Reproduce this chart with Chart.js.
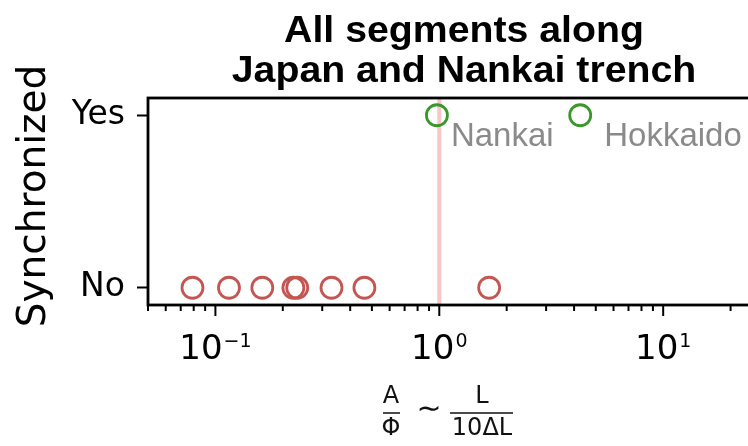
<!DOCTYPE html>
<html>
<head>
<meta charset="utf-8">
<script src="https://cdn.jsdelivr.net/npm/chart.js@4.4.1/dist/chart.umd.min.js"></script>
<style>
  html, body { margin: 0; padding: 0; background: #fff; overflow: hidden; }
  #wrap { position: relative; width: 790px; height: 446px; }
</style>
</head>
<body>
<div id="wrap"><canvas id="graficoSegmentos"></canvas></div>
<script>
    // valores
    const categorias = ['No', 'Yes'];
    const naoSincX = [0.079, 0.115, 0.162, 0.223, 0.232, 0.33, 0.463, 1.67];
    const naoSincY = [0, 0, 0, 0, 0, 0, 0, 0];
    const sincX = [0.976, 4.26];
    const sincY = [1, 1];
    const sincNomes = ['Nankai', 'Hokkaido'];
    const limiteX = 1;
    const xMajorValores = [0.1, 1, 10];
    const xMajorExpoentes = ['−1', '0', '1'];

    const VERMELHO = 'rgb(196, 86, 82)';
    const VERDE = 'rgb(58, 152, 42)';

    const paraPontos = (xs, ys) => xs.map((x, i) => ({ x, y: ys[i] }));

    // texto com largura ajustada (esticado na horizontal)
    function textoLargo(ctx, txt, x, y, escala) {
        ctx.save();
        ctx.translate(x, y);
        ctx.scale(escala, 1);
        ctx.fillText(txt, 0, 0);
        ctx.restore();
    }

    const desenhoExtra = {
        id: 'desenhoExtra',
        beforeDatasetsDraw(chart) {
            const { ctx, chartArea: a, scales: { x } } = chart;
            const px = x.getPixelForValue(limiteX);
            ctx.save();
            ctx.strokeStyle = 'rgba(240, 128, 128, 0.45)';
            ctx.lineWidth = 4;
            ctx.beginPath();
            ctx.moveTo(px, a.top);
            ctx.lineTo(px, a.bottom);
            ctx.stroke();
            ctx.restore();
        },
        afterDraw(chart) {
            const { ctx, chartArea: a, scales: { x, y } } = chart;
            ctx.save();

            // moldura
            ctx.strokeStyle = '#000';
            ctx.lineWidth = 2.8;
            ctx.strokeRect(a.left, a.top, a.right - a.left, a.bottom - a.top);

            // marcas do eixo x (maiores e menores)
            ctx.lineWidth = 2;
            x.ticks.forEach(t => {
                const px = x.getPixelForValue(t.value);
                const len = xMajorValores.includes(t.value) ? 11 : 6;
                ctx.beginPath();
                ctx.moveTo(px, a.bottom);
                ctx.lineTo(px, a.bottom + len);
                ctx.stroke();
            });

            // rotulos 10^n do eixo x
            ctx.fillStyle = '#000';
            ctx.textBaseline = 'alphabetic';
            ctx.textAlign = 'left';
            xMajorValores.forEach((v, i) => {
                const px = x.getPixelForValue(v);
                ctx.font = '34px "DejaVu Sans"';
                const wBase = ctx.measureText('10').width;
                ctx.font = '19px "DejaVu Sans"';
                const wExp = ctx.measureText(xMajorExpoentes[i]).width;
                const x0 = px - (wBase + wExp + 1) / 2;
                ctx.font = '34px "DejaVu Sans"';
                ctx.fillText('10', x0, 359);
                ctx.font = '19px "DejaVu Sans"';
                ctx.fillText(xMajorExpoentes[i], x0 + wBase + 1, 347);
            });

            // titulo
            ctx.textAlign = 'center';
            ctx.font = 'bold 36px "Liberation Sans", Arial, sans-serif';
            textoLargo(ctx, 'All segments along', 464, 42, 1.09);
            textoLargo(ctx, 'Japan and Nankai trench', 464, 82, 1.09);

            // rotulo do eixo y
            ctx.save();
            ctx.translate(45, 196);
            ctx.rotate(-Math.PI / 2);
            ctx.font = '39px "DejaVu Sans"';
            ctx.fillText('Synchronized', 0, 0);
            ctx.restore();

            // rotulo do eixo x: A/Φ ∼ L/(10ΔL)
            ctx.font = '24px "DejaVu Sans"';
            ctx.fillStyle = '#111';
            ctx.fillText('A', 391, 403);
            ctx.fillText('Φ', 391, 435);
            ctx.fillText('L', 482, 403);
            ctx.fillText('10ΔL', 482, 435);
            ctx.textBaseline = 'middle';
            ctx.font = '30px "DejaVu Sans"';
            ctx.fillText('∼', 429, 410);
            ctx.strokeStyle = '#111';
            ctx.lineWidth = 1.6;
            ctx.beginPath();
            ctx.moveTo(383, 413); ctx.lineTo(400, 413);
            ctx.moveTo(450, 413); ctx.lineTo(513, 413);
            ctx.stroke();

            // nomes dos segmentos sincronizados
            const desloc = [14, 24];
            ctx.font = '33px "Liberation Sans", Arial, sans-serif';
            ctx.fillStyle = '#8a8a8a';
            ctx.textAlign = 'left';
            ctx.textBaseline = 'alphabetic';
            sincNomes.forEach((nome, i) => {
                const px = x.getPixelForValue(sincX[i]) + desloc[i];
                const py = y.getPixelForValue(sincY[i]) + 31;
                ctx.fillText(nome, px, py);
            });

            ctx.restore();
        }
    };

    function criarGrafico() {
        new Chart(document.getElementById('graficoSegmentos'), {
            type: 'scatter',
            data: {
                datasets: [{
                    data: paraPontos(naoSincX, naoSincY),
                    borderColor: VERMELHO,
                    backgroundColor: 'rgba(0,0,0,0)',
                    pointRadius: 10.5,
                    pointBorderWidth: 2.8
                }, {
                    data: paraPontos(sincX, sincY),
                    borderColor: VERDE,
                    backgroundColor: 'rgba(0,0,0,0)',
                    pointRadius: 10.5,
                    pointBorderWidth: 2.8
                }]
            },
            options: {
                responsive: true,
                maintainAspectRatio: false,
                animation: false,
                layout: { padding: { left: 0, top: 98, right: 20, bottom: 0 } },
                plugins: { legend: { display: false }, tooltip: { enabled: false } },
                scales: {
                    x: {
                        type: 'logarithmic',
                        min: 0.05,
                        max: 30,
                        afterFit: s => { s.height = 141; },
                        afterBuildTicks: s => {
                            const t = [];
                            for (let e = -2; e <= 1; e++) {
                                for (let m = 1; m <= 9; m++) {
                                    const v = m * Math.pow(10, e);
                                    if (v >= s.min && v <= s.max) t.push({ value: v });
                                }
                            }
                            s.ticks = t;
                        },
                        grid: { drawOnChartArea: false, drawTicks: false },
                        border: { display: false },
                        ticks: { display: false, autoSkip: false }
                    },
                    y: {
                        type: 'linear',
                        min: -0.1,
                        max: 1.1,
                        afterFit: s => { s.width = 148; },
                        afterBuildTicks: s => {
                            s.ticks = categorias.map((c, i) => ({ value: i }));
                        },
                        grid: { drawOnChartArea: false, tickLength: 11, tickWidth: 2, tickColor: '#000' },
                        border: { display: false },
                        ticks: {
                            padding: 12,
                            color: '#000',
                            font: { family: 'DejaVu Sans', size: 33 },
                            callback: v => categorias[v] ?? ''
                        }
                    }
                }
            },
            plugins: [desenhoExtra]
        });
    }

    document.addEventListener('DOMContentLoaded', () => {
        criarGrafico();
    });
</script>
</body>
</html>
